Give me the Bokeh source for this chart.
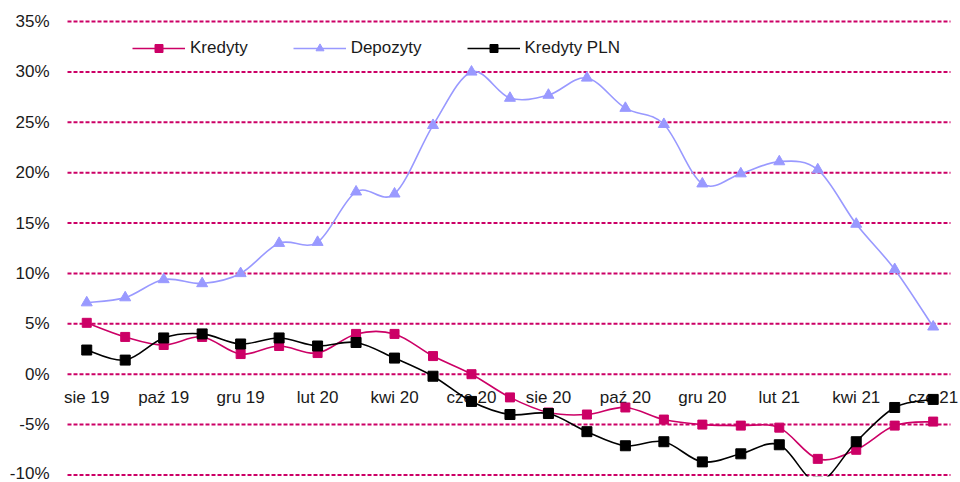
import numpy as np
from bokeh.plotting import figure
from bokeh.models import (ColumnDataSource, Range1d, FixedTicker, PrintfTickFormatter,
                          Legend, LegendItem, LabelSet)
from bokeh.core.properties import value
from bokeh.embed import file_html
from bokeh.resources import INLINE

# ---------------- data ----------------
months = ["sie 19", "wrz 19", "paź 19", "lis 19", "gru 19", "sty 20", "lut 20", "mar 20",
          "kwi 20", "maj 20", "cze 20", "lip 20", "sie 20", "wrz 20", "paź 20", "lis 20",
          "gru 20", "sty 21", "lut 21", "mar 21", "kwi 21", "maj 21", "cze 21"]
tick_labels = ["sie 19", "paź 19", "gru 19", "lut 20", "kwi 20", "cze 20",
               "sie 20", "paź 20", "gru 20", "lut 21", "kwi 21", "cze 21"]
kredyty = [5.1, 3.7, 2.9, 3.7, 2.0, 2.8, 2.1, 4.0, 4.0, 1.8, 0.0, -2.3, -3.8, -4.0, -3.3,
           -4.5, -5.0, -5.1, -5.3, -8.4, -7.5, -5.1, -4.7]
depozyty = [7.1, 7.6, 9.4, 9.0, 10.0, 13.0, 13.1, 18.1, 17.9, 24.7, 30.0, 27.4, 27.7, 29.4,
            26.4, 24.8, 18.9, 19.9, 21.1, 20.3, 14.9, 10.4, 4.7]
kredyty_pln = [2.4, 1.4, 3.6, 4.0, 3.0, 3.6, 2.8, 3.15, 1.6, -0.2, -2.7, -4.0, -3.9, -5.7,
               -7.1, -6.7, -8.7, -7.9, -7.0, -10.7, -6.7, -3.3, -2.5]
y_ticks = [-10, -5, 0, 5, 10, 15, 20, 25, 30, 35]

MAGENTA = "#CC0066"
BLUE = "#9999FF"
BLACK = "#000000"
FONT = "Liberation Sans"
TEXT = "#1a1a1a"

xs = list(range(len(months)))


def smooth_source(x, y, t=1.0 / 6.0):
    """Bezier segments through the data points (Excel-style smoothing)."""
    n = len(x)
    d = dict(x0=[], y0=[], x1=[], y1=[], cx0=[], cy0=[], cx1=[], cy1=[])
    for i in range(n - 1):
        pm = max(i - 1, 0)
        pp = min(i + 2, n - 1)
        d["x0"].append(x[i]); d["y0"].append(y[i])
        d["x1"].append(x[i + 1]); d["y1"].append(y[i + 1])
        d["cx0"].append(x[i] + (x[i + 1] - x[pm]) * t)
        d["cy0"].append(y[i] + (y[i + 1] - y[pm]) * t)
        d["cx1"].append(x[i + 1] - (x[pp] - x[i]) * t)
        d["cy1"].append(y[i + 1] - (y[pp] - y[i]) * t)
    return ColumnDataSource(d)


p = figure(width=960, height=482, output_backend="svg", toolbar_location=None,
           x_range=Range1d(-0.734, 22.71), y_range=Range1d(-10.15, 35.2),
           x_axis_location=None,
           min_border_left=58, min_border_right=0, min_border_top=19, min_border_bottom=6)
p.outline_line_color = None
p.background_fill_color = "white"
p.border_fill_color = "white"

p.xgrid.visible = False
p.ygrid.visible = False

# dashed horizontal gridlines spanning the category area
n = len(months)
p.segment(x0=[-0.5] * len(y_ticks), x1=[n - 0.55] * len(y_ticks), y0=y_ticks, y1=y_ticks,
          line_color=MAGENTA, line_width=2, line_dash="4 2")

yax = p.yaxis[0]
yax.ticker = FixedTicker(ticks=y_ticks)
yax.formatter = PrintfTickFormatter(format="%d%%")
yax.axis_line_color = None
yax.major_tick_line_color = None
yax.minor_tick_line_color = None
yax.major_tick_out = 0
yax.major_tick_in = 0
yax.minor_tick_out = 0
yax.minor_tick_in = 0
yax.major_label_standoff = 9
yax.major_label_text_font = FONT
yax.major_label_text_font_size = "17px"
yax.major_label_text_color = TEXT

# category labels along the 0% line
lab_src = ColumnDataSource(dict(x=[months.index(m) for m in tick_labels],
                                y=[0] * len(tick_labels), text=tick_labels))
labels = LabelSet(x="x", y="y", text="text", source=lab_src, text_align="center",
                  text_baseline="alphabetic", y_offset=-29, text_font=value(FONT),
                  text_font_size=value("17px"), text_color=TEXT, level="underlay")
p.add_layout(labels)

series = [
    ("Kredyty", kredyty, MAGENTA, "square", 9),
    ("Depozyty", depozyty, BLUE, "triangle", 11),
    ("Kredyty PLN", kredyty_pln, BLACK, "square", 10),
]

items = []
for name, vals, col, mk, sz in series:
    lr = p.bezier(x0="x0", y0="y0", x1="x1", y1="y1", cx0="cx0", cy0="cy0",
                  cx1="cx1", cy1="cy1", source=smooth_source(xs, vals),
                  line_color=col, line_width=1.6)
    sr = p.scatter(x=xs, y=vals, marker=mk, size=sz, fill_color=col, line_color=col)
    items.append(LegendItem(label=name, renderers=[lr, sr]))

legend = Legend(items=items, orientation="horizontal", location=(74, 418),
                padding=0, spacing=45, glyph_width=53, glyph_height=20,
                label_height=20, label_standoff=5, label_text_font=FONT,
                label_text_font_size="17px", label_text_color=TEXT,
                border_line_alpha=0, background_fill_alpha=0)
p.add_layout(legend)

open("out.html", "w").write(file_html(p, INLINE))
